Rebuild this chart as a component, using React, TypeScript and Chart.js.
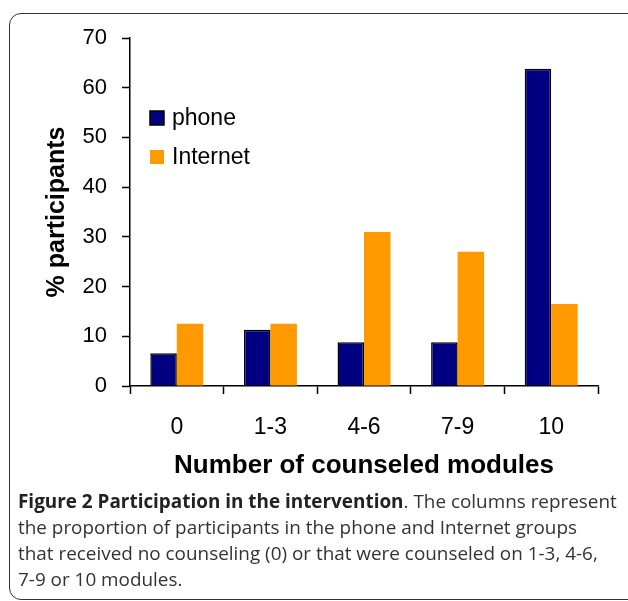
import React, { useEffect, useRef } from "react";
import { Chart, registerables } from "chart.js";

Chart.register(...registerables);

const categories = ["0", "1-3", "4-6", "7-9", "10"];
const phoneValues = [6.6, 11.3, 8.8, 8.8, 63.8];
const internetValues = [12.5, 12.5, 31.0, 27.0, 16.5];
const seriesLabels = ["phone", "Internet"];
const yTickValues = [0, 10, 20, 30, 40, 50, 60, 70];
const xTitle = "Number of counseled modules";
const yTitle = "% participants";

const FONT = "'Liberation Sans', Arial, sans-serif";

const legendInside = {
  id: "legendInside",
  afterDatasetsDraw(chart: any) {
    const { ctx, chartArea } = chart;
    const ds = chart.data.datasets;
    ctx.save();
    ds.forEach((d: any, i: number) => {
      const cy = chartArea.top + 80 + i * 39;
      const bx = chartArea.left + 20;
      ctx.fillStyle = d.backgroundColor;
      ctx.fillRect(bx, cy - 7, 14, 14);
      if (d.borderWidth > 0) {
        ctx.strokeStyle = d.borderColor;
        ctx.lineWidth = 1.5;
        ctx.strokeRect(bx, cy - 7, 14, 14);
      }
      ctx.fillStyle = "#000";
      ctx.font = `23px ${FONT}`;
      ctx.textBaseline = "middle";
      ctx.textAlign = "left";
      ctx.fillText(d.label, bx + 22, cy + 1);
    });
    ctx.restore();
  },
};

function ChartCanvas() {
  const ref = useRef<HTMLCanvasElement | null>(null);
  useEffect(() => {
    if (!ref.current) return;
    const chart = new Chart(ref.current, {
      type: "bar",
      data: {
        labels: categories,
        datasets: [
          {
            label: seriesLabels[0],
            data: phoneValues,
            backgroundColor: "#000080",
            borderColor: "#000000",
            borderWidth: 1.5,
            borderSkipped: "bottom",
            categoryPercentage: 0.566,
            barPercentage: 1,
          },
          {
            label: seriesLabels[1],
            data: internetValues,
            backgroundColor: "#FF9900",
            borderColor: "#FF9900",
            borderWidth: 0,
            categoryPercentage: 0.566,
            barPercentage: 1,
          },
        ],
      },
      options: {
        responsive: false,
        animation: false,
        layout: { padding: { left: 0, top: 38, right: 30, bottom: 0 } },
        plugins: {
          legend: { display: false },
          tooltip: { enabled: false },
        },
        scales: {
          x: {
            grid: {
              display: true,
              drawOnChartArea: false,
              drawTicks: true,
              tickLength: 8,
              tickWidth: 1.5,
              tickColor: "#000",
              offset: true,
            },
            border: { display: true, color: "#000", width: 1.5 },
            ticks: {
              color: "#000",
              font: { family: FONT, size: 23 },
              padding: 20,
              maxRotation: 0,
            },
            title: {
              display: true,
              text: xTitle,
              color: "#000",
              font: { family: FONT, size: 26, weight: "bold" },
              padding: { top: 0, bottom: 9 },
            },
            afterFit(scale: any) {
              scale.height = 104;
            },
          },
          y: {
            min: 0,
            max: 70,
            afterBuildTicks(scale: any) {
              scale.ticks = yTickValues.map((v) => ({ value: v }));
            },
            grid: {
              display: true,
              drawOnChartArea: false,
              drawTicks: true,
              tickLength: 8,
              tickWidth: 1.5,
              tickColor: "#000",
            },
            border: { display: true, color: "#000", width: 1.5 },
            ticks: {
              color: "#000",
              font: { family: FONT, size: 22 },
              padding: 15,
            },
            title: {
              display: true,
              text: yTitle,
              color: "#000",
              font: { family: FONT, size: 25, weight: "bold" },
              padding: { top: 42, bottom: 0 },
            },
            afterFit(scale: any) {
              scale.width = 130;
            },
          },
        },
      },
      plugins: [legendInside],
    });
    return () => chart.destroy();
  }, []);
  return <canvas ref={ref} width={628} height={490} style={{ position: "absolute", left: 0, top: 0 }} />;
}

export default function App() {
  return (
    <div
      style={{
        position: "fixed",
        left: 0,
        top: 0,
        width: 628,
        height: 601,
        overflow: "hidden",
        background: "#fff",
      }}
    >
      <div
        style={{
          position: "absolute",
          left: 9,
          top: 13,
          width: 660,
          height: 585,
          border: "1.5px solid #333",
          borderRadius: 12,
        }}
      />
      <ChartCanvas />
      <div
        style={{
          position: "absolute",
          left: 18,
          top: 488,
          fontFamily: "'Open Sans', sans-serif",
          fontSize: 18.9,
          lineHeight: "26px",
          color: "#333",
          whiteSpace: "nowrap",
        }}
      >
        <b style={{ color: "#222" }}>Figure 2 Participation in the intervention</b>. The columns represent
        <br />
        the proportion of participants in the phone and Internet groups
        <br />
        that received no counseling (0) or that were counseled on 1-3, 4-6,
        <br />
        7-9 or 10 modules.
      </div>
    </div>
  );
}
